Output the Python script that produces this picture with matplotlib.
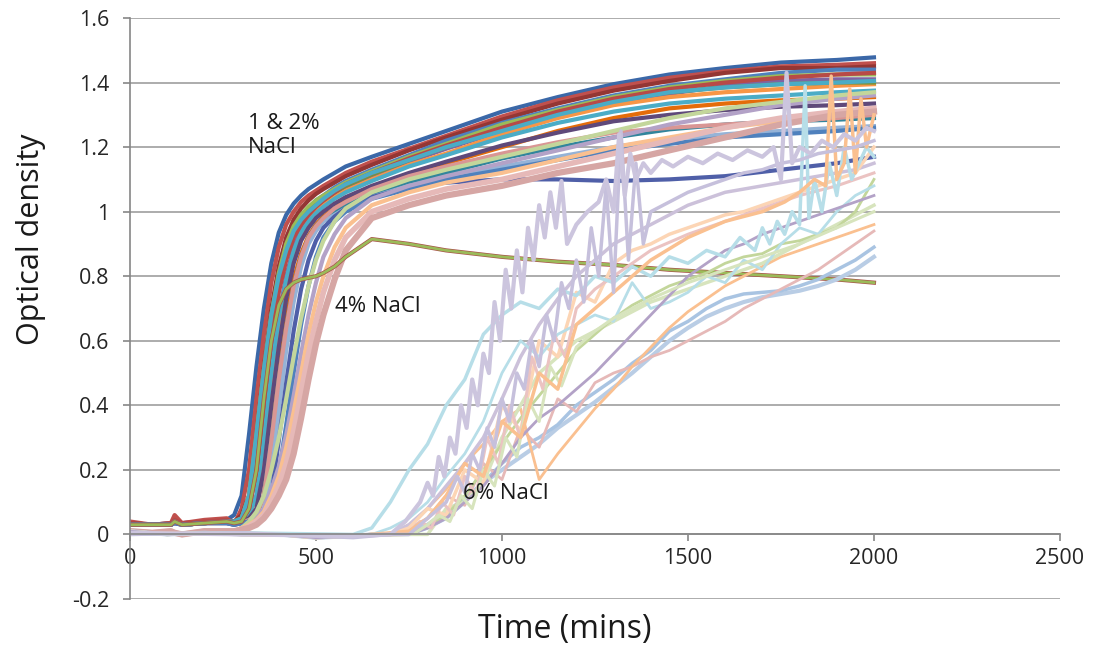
import matplotlib.pyplot as plt

plt.rcParams['font.family'] = ['Open Sans', 'DejaVu Sans']

# time grid (mins) shared by the 1 & 2% and 4% NaCl wells
TA = [0, 60, 110, 120, 140, 200, 260, 280, 300, 320, 340, 360, 380, 400, 420, 440, 460,
      480, 500, 520, 550, 580, 650, 750, 850, 1000, 1150, 1300, 1450, 1600, 1750, 1900, 2000]

# 1 & 2% NaCl
a01 = [0.035, 0.03, 0.035, 0.045, 0.035, 0.04, 0.045, 0.06, 0.12, 0.31, 0.52, 0.70, 0.84, 0.935, 0.99, 1.025, 1.05,
       1.07, 1.085, 1.10, 1.12, 1.14, 1.17, 1.21, 1.25, 1.31, 1.355, 1.395, 1.425, 1.445, 1.462, 1.47, 1.478]
a02 = [0.04, 0.03, 0.035, 0.06, 0.035, 0.045, 0.05, 0.03, 0.08, 0.2, 0.42, 0.62, 0.78, 0.89, 0.96, 1.0, 1.03,
       1.05, 1.065, 1.08, 1.10, 1.12, 1.155, 1.195, 1.235, 1.295, 1.345, 1.385, 1.415, 1.435, 1.45, 1.455, 1.46]
a03 = [0.035, 0.03, 0.03, 0.04, 0.03, 0.035, 0.04, 0.04, 0.06, 0.12, 0.31, 0.52, 0.70, 0.83, 0.92, 0.975, 1.01,
       1.035, 1.055, 1.07, 1.09, 1.11, 1.145, 1.19, 1.23, 1.285, 1.335, 1.375, 1.405, 1.43, 1.445, 1.445, 1.45]
a04 = [0.03, 0.03, 0.03, 0.04, 0.03, 0.035, 0.04, 0.04, 0.045, 0.08, 0.2, 0.42, 0.62, 0.77, 0.87, 0.94, 0.98,
       1.01, 1.035, 1.05, 1.075, 1.095, 1.13, 1.175, 1.22, 1.275, 1.32, 1.36, 1.39, 1.41, 1.43, 1.44, 1.44]
a05 = [0.03, 0.03, 0.03, 0.04, 0.03, 0.035, 0.04, 0.04, 0.05, 0.12, 0.31, 0.51, 0.68, 0.81, 0.9, 0.955, 0.99,
       1.015, 1.035, 1.05, 1.07, 1.09, 1.125, 1.17, 1.21, 1.27, 1.315, 1.355, 1.385, 1.405, 1.42, 1.425, 1.425]
a06 = [0.03, 0.03, 0.03, 0.04, 0.03, 0.035, 0.04, 0.04, 0.045, 0.06, 0.12, 0.31, 0.51, 0.68, 0.8, 0.89, 0.945,
       0.98, 1.005, 1.025, 1.05, 1.07, 1.11, 1.155, 1.195, 1.25, 1.295, 1.335, 1.365, 1.39, 1.405, 1.41, 1.41]
a07 = [0.03, 0.03, 0.03, 0.04, 0.03, 0.035, 0.04, 0.035, 0.04, 0.05, 0.08, 0.2, 0.41, 0.6, 0.75, 0.86, 0.93,
       0.97, 1.0, 1.02, 1.045, 1.065, 1.10, 1.145, 1.18, 1.24, 1.29, 1.33, 1.355, 1.37, 1.38, 1.39, 1.395]
a08 = [0.03, 0.03, 0.03, 0.04, 0.03, 0.035, 0.04, 0.035, 0.04, 0.06, 0.12, 0.3, 0.5, 0.67, 0.79, 0.88, 0.935,
       0.97, 0.995, 1.015, 1.04, 1.06, 1.095, 1.14, 1.175, 1.23, 1.275, 1.31, 1.335, 1.35, 1.36, 1.37, 1.375]
a09 = [0.03, 0.03, 0.03, 0.04, 0.03, 0.035, 0.04, 0.035, 0.04, 0.045, 0.06, 0.12, 0.3, 0.5, 0.67, 0.79, 0.87,
       0.925, 0.96, 0.985, 1.01, 1.035, 1.07, 1.115, 1.15, 1.2, 1.25, 1.29, 1.32, 1.335, 1.345, 1.35, 1.355]
a10 = [0.03, 0.03, 0.03, 0.04, 0.03, 0.035, 0.04, 0.04, 0.045, 0.08, 0.2, 0.41, 0.61, 0.76, 0.86, 0.93, 0.97,
       1.0, 1.02, 1.035, 1.06, 1.08, 1.115, 1.16, 1.2, 1.255, 1.305, 1.345, 1.37, 1.385, 1.395, 1.4, 1.4]
a11 = [0.03, 0.03, 0.03, 0.04, 0.03, 0.035, 0.04, 0.035, 0.04, 0.05, 0.08, 0.2, 0.4, 0.58, 0.73, 0.84, 0.91,
       0.95, 0.98, 1.0, 1.025, 1.045, 1.08, 1.12, 1.155, 1.205, 1.245, 1.28, 1.3, 1.315, 1.325, 1.33, 1.335]
a12 = [0.03, 0.03, 0.03, 0.04, 0.03, 0.035, 0.04, 0.035, 0.04, 0.045, 0.06, 0.12, 0.29, 0.48, 0.64, 0.77, 0.86,
       0.92, 0.955, 0.98, 1.0, 1.02, 1.055, 1.09, 1.12, 1.165, 1.2, 1.23, 1.255, 1.27, 1.28, 1.285, 1.29]
a13 = [0.03, 0.03, 0.03, 0.035, 0.03, 0.035, 0.035, 0.03, 0.035, 0.04, 0.05, 0.08, 0.2, 0.39, 0.57, 0.72, 0.83,
       0.9, 0.94, 0.97, 0.99, 1.01, 1.045, 1.08, 1.105, 1.14, 1.17, 1.2, 1.225, 1.24, 1.25, 1.26, 1.265]
a14 = [0.03, 0.03, 0.03, 0.035, 0.03, 0.035, 0.035, 0.03, 0.035, 0.045, 0.06, 0.12, 0.29, 0.48, 0.64, 0.77, 0.86,
       0.92, 0.955, 0.98, 1.01, 1.03, 1.07, 1.11, 1.14, 1.18, 1.215, 1.245, 1.26, 1.27, 1.28, 1.29, 1.3]
a15 = [0.035, 0.03, 0.035, 0.045, 0.035, 0.04, 0.045, 0.04, 0.045, 0.08, 0.2, 0.41, 0.6, 0.75, 0.85, 0.92, 0.96,
       0.99, 1.015, 1.035, 1.06, 1.085, 1.12, 1.165, 1.205, 1.26, 1.31, 1.35, 1.38, 1.4, 1.415, 1.425, 1.43]
a16 = [0.03, 0.03, 0.03, 0.035, 0.03, 0.035, 0.035, 0.03, 0.035, 0.04, 0.045, 0.06, 0.12, 0.29, 0.47, 0.63, 0.76,
       0.85, 0.91, 0.95, 0.985, 1.01, 1.045, 1.075, 1.09, 1.10, 1.10, 1.095, 1.10, 1.11, 1.13, 1.15, 1.17]
a17 = [0.03, 0.03, 0.03, 0.035, 0.03, 0.035, 0.035, 0.03, 0.035, 0.04, 0.045, 0.06, 0.1, 0.19, 0.34, 0.5, 0.65,
       0.77, 0.86, 0.92, 0.97, 1.0, 1.04, 1.07, 1.1, 1.13, 1.16, 1.19, 1.21, 1.23, 1.24, 1.25, 1.26]
a18 = [0.03, 0.03, 0.03, 0.04, 0.03, 0.035, 0.04, 0.04, 0.05, 0.12, 0.31, 0.51, 0.68, 0.8, 0.88, 0.94, 0.975,
       1.0, 1.02, 1.04, 1.065, 1.085, 1.12, 1.16, 1.2, 1.25, 1.3, 1.34, 1.37, 1.385, 1.395, 1.40, 1.405]

# 4% NaCl
b01 = [0.01, 0.005, 0.01, 0.005, 0.0, 0.01, 0.01, 0.01, 0.015, 0.02, 0.03, 0.05, 0.08, 0.12, 0.17, 0.25, 0.36,
       0.48, 0.59, 0.68, 0.79, 0.88, 0.98, 1.02, 1.05, 1.08, 1.12, 1.15, 1.19, 1.23, 1.27, 1.3, 1.31]
b02 = [0.01, 0.005, 0.01, 0.005, 0.0, 0.01, 0.01, 0.01, 0.015, 0.025, 0.04, 0.06, 0.1, 0.15, 0.22, 0.32, 0.44,
       0.56, 0.66, 0.75, 0.85, 0.92, 1.0, 1.04, 1.07, 1.1, 1.14, 1.18, 1.22, 1.26, 1.29, 1.31, 1.32]
b03 = [0.01, 0.005, 0.01, 0.005, 0.0, 0.01, 0.01, 0.01, 0.02, 0.03, 0.045, 0.07, 0.12, 0.18, 0.27, 0.38, 0.5,
       0.62, 0.72, 0.8, 0.89, 0.95, 1.02, 1.06, 1.09, 1.12, 1.16, 1.2, 1.23, 1.26, 1.28, 1.3, 1.31]
b04 = [0.01, 0.005, 0.01, 0.005, 0.0, 0.01, 0.01, 0.01, 0.02, 0.03, 0.05, 0.08, 0.14, 0.21, 0.31, 0.43, 0.56,
       0.68, 0.78, 0.86, 0.93, 0.98, 1.04, 1.08, 1.11, 1.15, 1.19, 1.23, 1.27, 1.3, 1.33, 1.35, 1.36]
b05 = [0.01, 0.005, 0.01, 0.005, 0.0, 0.01, 0.01, 0.01, 0.02, 0.04, 0.07, 0.12, 0.2, 0.3, 0.42, 0.55, 0.67,
       0.77, 0.85, 0.91, 0.97, 1.01, 1.06, 1.1, 1.13, 1.17, 1.21, 1.25, 1.29, 1.32, 1.34, 1.36, 1.37]
b06 = [0.03, 0.03, 0.03, 0.04, 0.03, 0.035, 0.04, 0.035, 0.04, 0.08, 0.2, 0.42, 0.6, 0.71, 0.76, 0.78, 0.79,
       0.795, 0.8, 0.81, 0.83, 0.86, 0.915, 0.9, 0.88, 0.86, 0.845, 0.835, 0.82, 0.81, 0.8, 0.79, 0.78]

# 6% NaCl, 50 min grid
TC = [0, 100, 200, 300, 400, 500, 600, 650, 700, 750, 800, 850, 900, 950, 1000, 1050, 1100, 1150, 1200,
      1250, 1300, 1350, 1400, 1450, 1500, 1550, 1600, 1650, 1700, 1750, 1800, 1850, 1900, 1950, 2000]
c01 = [0.01, 0.0, 0.005, 0.0, 0.0, -0.01, -0.005, 0.0, 0.0, 0.01, 0.03, 0.07, 0.11, 0.16, 0.2, 0.24, 0.28, 0.33,
       0.37, 0.41, 0.455, 0.5, 0.55, 0.6, 0.64, 0.675, 0.7, 0.72, 0.735, 0.745, 0.755, 0.77, 0.79, 0.82, 0.86]
c02 = [0.01, 0.0, 0.005, 0.0, 0.0, -0.01, -0.005, 0.0, 0.0, 0.0, 0.02, 0.05, 0.1, 0.16, 0.22, 0.27, 0.3, 0.34,
       0.4, 0.44, 0.48, 0.53, 0.57, 0.63, 0.66, 0.7, 0.73, 0.745, 0.75, 0.755, 0.77, 0.79, 0.82, 0.85, 0.89]
c03 = [0.01, 0.0, 0.005, 0.0, 0.0, -0.01, -0.005, 0.0, 0.0, 0.02, 0.05, 0.12, 0.09, 0.22, 0.17, 0.33, 0.27, 0.42,
       0.38, 0.47, 0.5, 0.52, 0.55, 0.57, 0.6, 0.63, 0.66, 0.7, 0.73, 0.76, 0.79, 0.82, 0.86, 0.9, 0.94]
c04 = [0.01, 0.0, 0.005, 0.0, 0.0, -0.01, -0.005, 0.0, 0.0, 0.03, 0.08, 0.14, 0.22, 0.28, 0.35, 0.39, 0.17, 0.25,
       0.32, 0.39, 0.45, 0.52, 0.58, 0.64, 0.69, 0.73, 0.77, 0.8, 0.83, 0.86, 0.88, 0.9, 0.92, 0.94, 0.96]
c05 = [0.01, 0.0, 0.005, 0.0, 0.0, -0.01, -0.005, 0.0, 0.0, 0.0, 0.0, 0.08, 0.1, 0.16, 0.3, 0.4, 0.5, 0.55,
       0.6, 0.63, 0.66, 0.69, 0.72, 0.74, 0.76, 0.78, 0.8, 0.82, 0.84, 0.87, 0.9, 0.93, 0.96, 0.99, 1.02]
c06 = [0.01, 0.0, 0.005, 0.0, 0.0, -0.01, -0.005, 0.0, 0.0, 0.01, 0.02, 0.06, 0.12, 0.2, 0.28, 0.36, 0.43, 0.5,
       0.57, 0.62, 0.67, 0.71, 0.74, 0.77, 0.79, 0.81, 0.84, 0.86, 0.87, 0.9, 0.91, 0.93, 0.95, 1.0, 1.1]
c07 = [0.01, 0.0, 0.005, 0.0, 0.0, -0.01, -0.005, 0.0, 0.0, 0.03, 0.08, 0.15, 0.22, 0.3, 0.42, 0.55, 0.65, 0.73,
       0.8, 0.85, 0.9, 0.93, 0.96, 0.99, 1.02, 1.04, 1.06, 1.07, 1.08, 1.09, 1.1, 1.11, 1.12, 1.13, 1.15]
c08 = [0.01, 0.0, 0.005, 0.0, 0.0, -0.01, -0.005, 0.0, 0.0, 0.02, 0.08, 0.06, 0.2, 0.16, 0.4, 0.32, 0.6, 0.55,
       0.75, 0.72, 0.84, 0.88, 0.9, 0.93, 0.95, 0.97, 0.99, 1.0, 1.02, 1.04, 1.06, 1.08, 1.1, 1.12, 1.2]
c09 = [0.01, 0.0, 0.005, 0.0, 0.0, -0.01, -0.005, 0.0, 0.02, 0.05, 0.1, 0.18, 0.25, 0.35, 0.5, 0.6, 0.55, 0.62,
       0.65, 0.68, 0.66, 0.78, 0.7, 0.72, 0.75, 0.8, 0.78, 0.85, 0.82, 0.9, 0.95, 0.93, 1.0, 1.05, 1.08]
c10 = [0.01, 0.0, 0.005, 0.0, 0.0, -0.01, -0.005, 0.0, 0.0, 0.0, 0.02, 0.05, 0.1, 0.15, 0.22, 0.3, 0.36, 0.4,
       0.45, 0.5, 0.56, 0.62, 0.68, 0.74, 0.8, 0.84, 0.88, 0.9, 0.93, 0.95, 0.97, 0.99, 1.01, 1.03, 1.05]

# 6% NaCl, noisy wells with their own read times
ts1 = [0, 300, 600, 700, 720, 740, 760, 780, 800, 815, 830, 845, 860, 875, 890, 905, 920, 935, 950, 965,
       980, 995, 1010, 1025, 1040, 1055, 1070, 1085, 1100, 1115, 1130, 1145, 1160, 1175, 1200, 1230, 1260,
       1280, 1300, 1315, 1330, 1345, 1360, 1380, 1400, 1430, 1460, 1500, 1540, 1580, 1620, 1660, 1700, 1730,
       1750, 1765, 1780, 1800, 1830, 1860, 1890, 1920, 1950, 1980, 2000]
s01 = [0.005, 0.0, -0.005, 0.0, 0.02, 0.04, 0.07, 0.1, 0.16, 0.12, 0.24, 0.18, 0.3, 0.25, 0.4, 0.33, 0.48, 0.4,
       0.56, 0.5, 0.72, 0.6, 0.82, 0.7, 0.88, 0.75, 0.95, 0.85, 1.02, 0.92, 1.06, 0.95, 1.095, 0.9, 0.96, 1.0,
       1.03, 1.1, 1.0, 1.24, 1.05, 1.18, 1.1, 1.15, 1.12, 1.16, 1.14, 1.17, 1.15, 1.18, 1.16, 1.19, 1.17, 1.2,
       1.1, 1.43, 1.15, 1.2, 1.18, 1.22, 1.2, 1.24, 1.22, 1.26, 1.25]
ts2 = [0, 300, 600, 700, 750, 800, 850, 880, 900, 920, 940, 960, 980, 1000, 1020, 1040, 1060, 1080, 1100,
       1120, 1140, 1160, 1180, 1200, 1220, 1240, 1260, 1280, 1300, 1320, 1340, 1360, 1380, 1400, 1450, 1500,
       1550, 1600, 1650, 1700, 1750, 1800, 1850, 1900, 1950, 2000]
s02 = [0.0, 0.005, -0.01, 0.0, 0.0, 0.05, 0.1, 0.18, 0.13, 0.25, 0.2, 0.33, 0.27, 0.42, 0.35, 0.5, 0.45, 0.6,
       0.52, 0.68, 0.6, 0.78, 0.7, 0.85, 0.72, 0.95, 0.8, 1.08, 0.75, 1.25, 0.85, 1.15, 0.9, 1.0, 1.03, 1.06,
       1.08, 1.1, 1.12, 1.13, 1.15, 1.16, 1.18, 1.19, 1.2, 1.22]
ts3 = [0, 300, 600, 650, 700, 750, 800, 850, 900, 950, 1000, 1050, 1100, 1150, 1200, 1250, 1300, 1350, 1400,
       1450, 1500, 1550, 1600, 1640, 1680, 1700, 1720, 1740, 1760, 1780, 1800, 1815, 1825, 1840, 1860, 1880,
       1900, 1920, 1940, 1960, 1980, 2000]
s03 = [0.0, 0.005, 0.0, 0.02, 0.1, 0.2, 0.28, 0.4, 0.48, 0.62, 0.68, 0.72, 0.7, 0.76, 0.74, 0.8, 0.78, 0.83,
       0.8, 0.86, 0.84, 0.88, 0.86, 0.92, 0.88, 0.95, 0.9, 0.97, 0.93, 1.0, 0.96, 1.39, 0.98, 1.1, 1.0, 1.15,
       1.05, 1.2, 1.1, 1.15, 1.2, 1.17]
ts4 = [0, 300, 600, 750, 800, 850, 900, 950, 1000, 1050, 1100, 1150, 1200, 1300, 1400, 1500, 1600, 1700,
       1760, 1800, 1840, 1870, 1885, 1900, 1920, 1935, 1950, 1965, 1980, 2000]
s04 = [0.005, 0.0, -0.005, 0.01, 0.05, 0.12, 0.22, 0.18, 0.35, 0.3, 0.5, 0.45, 0.65, 0.75, 0.85, 0.92, 0.97,
       1.0, 1.03, 1.06, 1.1, 1.08, 1.42, 1.1, 1.15, 1.38, 1.12, 1.35, 1.2, 1.3]
ts5 = [0, 300, 600, 750, 780, 810, 840, 870, 900, 930, 960, 990, 1020, 1050, 1080, 1110, 1140, 1170, 1200,
       1250, 1300, 1350, 1400, 1500, 1600, 1700, 1800, 1900, 2000]
s05 = [0.0, 0.005, -0.005, 0.0, 0.04, 0.02, 0.1, 0.06, 0.18, 0.12, 0.3, 0.22, 0.4, 0.3, 0.55, 0.45, 0.62, 0.55,
       0.7, 0.76, 0.8, 0.84, 0.88, 0.93, 0.97, 1.01, 1.05, 1.08, 1.12]
ts6 = [0, 300, 600, 760, 800, 830, 860, 890, 920, 950, 980, 1010, 1040, 1070, 1100, 1130, 1160, 1200, 1250,
       1300, 1400, 1500, 1600, 1700, 1800, 1900, 2000]
s06 = [0.0, 0.0, -0.005, 0.0, 0.03, 0.06, 0.04, 0.12, 0.08, 0.2, 0.15, 0.3, 0.24, 0.42, 0.35, 0.52, 0.46, 0.58,
       0.63, 0.67, 0.73, 0.78, 0.82, 0.86, 0.9, 0.95, 1.0]

fig = plt.figure(figsize=(10.95, 6.5), dpi=100)
ax = fig.add_axes([0.1187, 0.0785, 0.8493, 0.8938])

# excel-ish palette
group_a = [(a01, '#3B68A8'), (a02, '#C0504D'), (a03, '#943634'), (a04, '#4F81BD'), (a05, '#9BBB59'),
           (a06, '#8064A2'), (a07, '#F79646'), (a08, '#4BACC6'), (a09, '#E46C0A'), (a10, '#77933C'),
           (a11, '#5F497A'), (a12, '#31859C'), (a13, '#95B3D7'), (a14, '#D99694'), (a15, '#B84A47'),
           (a16, '#4F5FA8'), (a17, '#4F81BD'), (a18, '#4BACC6')]
for vals, col in group_a:
    ax.plot(TA, vals, color=col, lw=3.0, solid_joinstyle='round')

group_b = [(b04, '#B3A2C7', 3.0), (b05, '#C3D69B', 3.0), (b03, '#FAC090', 3.0),
           (b02, '#E6B9B8', 4.0), (b01, '#D6A6A4', 4.5)]
for vals, col, w in group_b:
    ax.plot(TA, vals, color=col, lw=w, solid_joinstyle='round')
ax.plot(TA, b06, color='#A9514A', lw=3.0)
ax.plot(TA, b06, color='#9BBB59', lw=2.0)

group_c = [(c01, '#B9CDE5', 3.0), (c02, '#A9C4E2', 2.5), (c03, '#E6B9B8', 2.0), (c04, '#FAC090', 2.0),
           (c05, '#D7E4BD', 2.5), (c06, '#C3D69B', 2.0), (c07, '#CCC1DA', 2.5), (c08, '#FCD5B5', 2.5),
           (c09, '#B7DEE8', 2.0), (c10, '#B3A2C7', 2.0)]
for vals, col, w in group_c:
    ax.plot(TC, vals, color=col, lw=w, solid_joinstyle='round')

ax.plot(ts5, s05, color='#EBC3C2', lw=2.2)
ax.plot(ts6, s06, color='#D7E4BD', lw=2.2)
ax.plot(ts3, s03, color='#B7DEE8', lw=2.5)
ax.plot(ts4, s04, color='#FAC090', lw=2.5)
ax.plot(ts2, s02, color='#C6C0DC', lw=2.5)
ax.plot(ts1, s01, color='#CCC5DE', lw=3.0)

# axes in the excel style
ax.set_xlim(0, 2500)
ax.set_ylim(-0.2, 1.6)
yt = [-0.2, 0, 0.2, 0.4, 0.6, 0.8, 1.0, 1.2, 1.4, 1.6]
ax.set_yticks(yt)
ax.set_yticklabels(['-0.2', '0', '0.2', '0.4', '0.6', '0.8', '1', '1.2', '1.4', '1.6'])
ax.set_xticks([0, 500, 1000, 1500, 2000, 2500])
ax.grid(axis='y', color='#A6A6A6', lw=1.3)
ax.set_axisbelow(True)
for s in ['top', 'right']:
    ax.spines[s].set_visible(False)
ax.spines['bottom'].set_position(('data', 0))
ax.spines['bottom'].set_color('#868686')
ax.spines['left'].set_color('#868686')
ax.spines['bottom'].set_linewidth(1.2)
ax.spines['left'].set_linewidth(1.2)
ax.tick_params(axis='y', length=5, width=1.2, color='#868686', pad=10, labelsize=15.5, labelcolor='#262626')
ax.tick_params(axis='x', length=5, width=1.2, color='#868686', pad=5, labelsize=15.5, labelcolor='#262626')

ax.set_ylabel('Optical density', fontsize=22, color='#1a1a1a')
ax.yaxis.set_label_coords(-0.09, 0.62)
ax.set_xlabel('Time (mins)', fontsize=23, color='#1a1a1a')
ax.xaxis.set_label_coords(0.468, -0.025)

ax.text(317, 1.305, '1 & 2%\nNaCl', fontsize=16, va='top', ha='left', linespacing=1.2, color='#1a1a1a')
ax.text(551, 0.707, '4% NaCl', fontsize=16, va='center', ha='left', color='#1a1a1a')
ax.text(895, 0.127, '6% NaCl', fontsize=16, va='center', ha='left', color='#1a1a1a')

fig.savefig('out.png', dpi=100)
